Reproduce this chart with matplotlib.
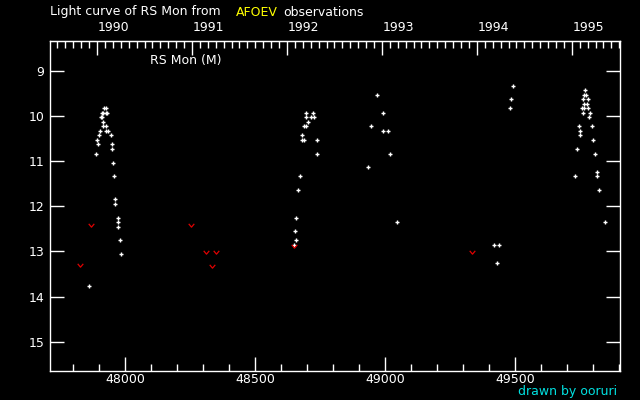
import matplotlib
matplotlib.use("Agg")
import matplotlib.pyplot as plt
from matplotlib.path import Path
from matplotlib.ticker import MultipleLocator, NullFormatter

# 观测数据 (JD - 2400000, 星等)
obs_jd = [
    47920, 47928, 47913, 47917, 47928, 47932, 47909, 47911, 47917, 47917,
    47928, 47905, 47926, 47936, 47901, 47947, 47893, 47897, 47951, 47949,
    47890, 47955, 47959, 47963, 47963, 47974, 47974, 47974, 47982, 47986,
    47863,
    48697, 48724, 48697, 48717, 48728, 48705, 48690, 48697, 48682, 48682,
    48690, 48740, 48740, 48674, 48667, 48659, 48655, 48659, 48651,
    48970, 48993, 48947, 48993, 49013, 49020, 48936, 49047,
    49493, 49486, 49482, 49420, 49439, 49432,
    49768, 49764, 49772, 49760, 49780, 49764, 49776, 49757, 49764, 49780,
    49760, 49787, 49786, 49745, 49795, 49751, 49751, 49799, 49740, 49809,
    49817, 49817, 49732, 49824, 49847,
]
obs_mag = [
    9.83, 9.83, 9.94, 9.94, 9.94, 9.94, 10.03, 10.03, 10.14, 10.23,
    10.23, 10.34, 10.34, 10.34, 10.43, 10.43, 10.54, 10.63, 10.63, 10.74,
    10.85, 11.05, 11.34, 11.85, 11.94, 12.25, 12.34, 12.45, 12.74, 13.05,
    13.76,
    9.94, 9.94, 10.03, 10.03, 10.03, 10.14, 10.23, 10.23, 10.43, 10.54,
    10.54, 10.54, 10.85, 11.34, 11.65, 12.25, 12.54, 12.74, 12.85,
    9.54, 9.94, 10.23, 10.34, 10.34, 10.85, 11.14, 12.34,
    9.34, 9.63, 9.83, 12.85, 12.85, 13.25,
    9.43, 9.54, 9.54, 9.63, 9.63, 9.74, 9.74, 9.83, 9.83, 9.83,
    9.94, 9.94, 10.03, 10.23, 10.23, 10.34, 10.43, 10.54, 10.74, 10.85,
    11.25, 11.34, 11.34, 11.65, 12.34,
]

# 暗于极限 (fainter than)
lim_jd = [47870, 47828, 48255, 48313, 48351, 48336, 48651, 49336]
lim_mag = [12.41, 13.30, 12.41, 13.01, 13.01, 13.32, 12.89, 13.01]

years = [1990, 1991, 1992, 1993, 1994, 1995]


def jd2yr(jd):
    return 1990 + (jd - 47892.5) / 365.25


def yr2jd(yr):
    return 47892.5 + (yr - 1990) * 365.25


vmark = Path([(-1, 0.6), (0, -0.6), (1, 0.6)], [Path.MOVETO, Path.LINETO, Path.LINETO])
fs = 9

fig = plt.figure(figsize=(6.4, 4.0), dpi=100, facecolor="black")
ax = fig.add_axes([50 / 640, 29 / 400, 570 / 640, 330 / 400], facecolor="black")

ax.plot(obs_jd, obs_mag, ls="none", marker="+", ms=3.2, mew=1.0, color="white")
ax.plot(lim_jd, lim_mag, ls="none", marker=vmark, ms=4, mew=0.9, mfc="none", color="#e00000")

ax.set_xlim(47711.5, 49904)
ax.set_ylim(15.65, 8.34)

for s in ax.spines.values():
    s.set_color("white")
    s.set_linewidth(1.0)

ax.xaxis.set_major_locator(MultipleLocator(500))
ax.xaxis.set_minor_locator(MultipleLocator(100))
ax.yaxis.set_major_locator(MultipleLocator(1))
ax.tick_params(axis="both", which="both", direction="in", colors="white", labelsize=fs, width=1.0)
ax.tick_params(axis="x", which="major", length=10, pad=1.5, top=False)
ax.tick_params(axis="x", which="minor", length=5, top=False)
ax.tick_params(axis="y", which="major", length=10, pad=4, right=True)
ax.tick_params(axis="y", which="minor", left=False, right=False)

# 上方年份轴 (只画刻度, 标签左对齐另外写)
sec = ax.secondary_xaxis("top", functions=(jd2yr, yr2jd))
sec.set_xticks(years)
sec.xaxis.set_major_formatter(NullFormatter())
sec.xaxis.set_minor_locator(MultipleLocator(1 / 12))
sec.tick_params(which="both", direction="in", colors="white", width=1.0)
sec.tick_params(which="major", length=10)
sec.tick_params(which="minor", length=5)
sec.spines["top"].set_color("white")

for y in years:
    ax.text(yr2jd(y) + 3, 1.021, str(y), transform=ax.get_xaxis_transform(),
            color="white", fontsize=fs, ha="left", va="bottom")

ax.text(0.175, 0.942, "RS Mon (M)", transform=ax.transAxes, color="white", fontsize=fs, va="center")

ty = 0.97
fig.text(50 / 640, ty, "Light curve of RS Mon from", color="white", fontsize=fs, va="center")
fig.text(236 / 640, ty, "AFOEV", color="#ffff00", fontsize=fs, va="center")
fig.text(283 / 640, ty, "observations", color="white", fontsize=fs, va="center")
fig.text(617 / 640, 8 / 400, "drawn by ooruri", color="#00e0e0", fontsize=fs, ha="right", va="center")

fig.savefig("out.png", dpi=100, facecolor="black")
